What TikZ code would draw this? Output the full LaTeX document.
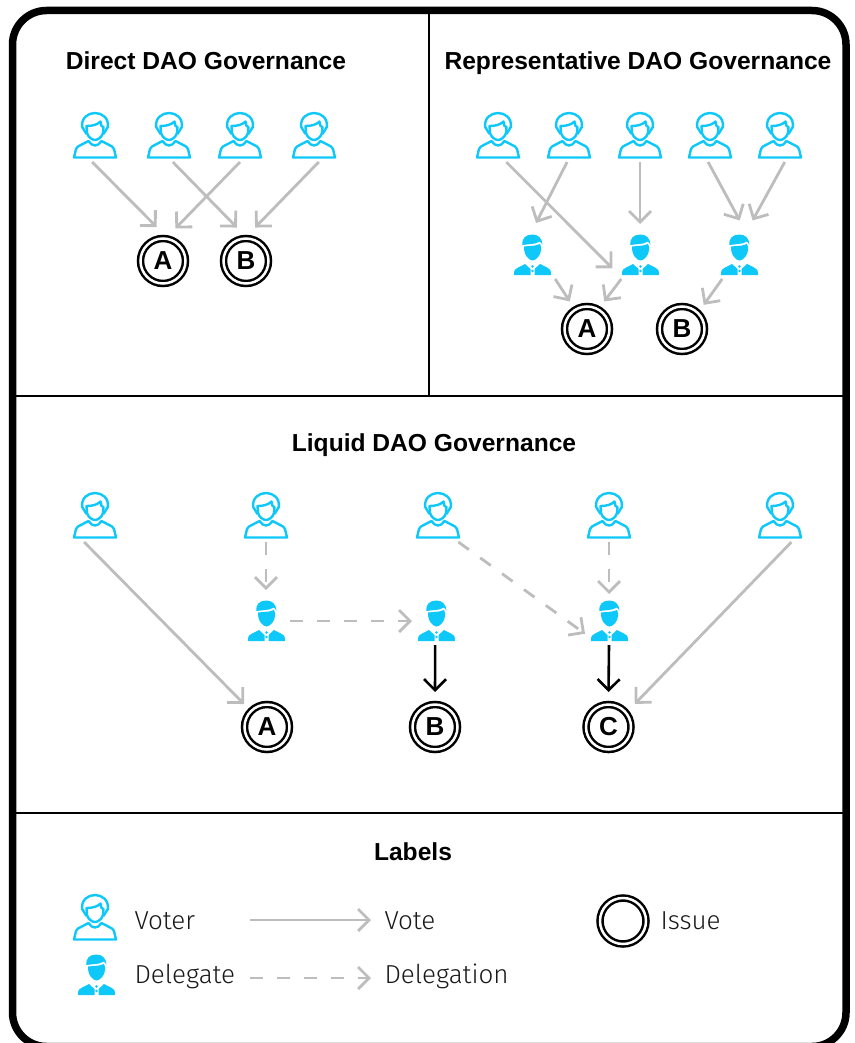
\documentclass[tikz,border=0pt]{standalone}
\usepackage{fontspec}
\setmainfont{Liberation Sans}
\newfontfamily\lightfont{Fira Sans Light}
\usetikzlibrary{arrows.meta}
\definecolor{iconblue}{HTML}{0FC8FA}
\definecolor{arrowgray}{HTML}{BDBDBD}
\tikzset{
  voter/.pic={
    \draw[iconblue, line width=2.4pt, line join=round]
      (-21,22.5) -- (21,22.5) -- (19,14) .. controls (18.5,12.5) and (18,12) .. (17,11.5) -- (6.5,6) .. controls (5,9) and (2,10.5) .. (0,10.5) .. controls (-2,10.5) and (-5,9) .. (-6.5,6) -- (-17,11.5) .. controls (-18,12) and (-18.5,12.5) .. (-19,14) -- cycle;
    \draw[iconblue, line width=2.4pt, line join=round]
      (-8.5,-1) -- (-12.8,-8) .. controls (-14,-17) and (-7,-22) .. (0,-22) .. controls (7,-22) and (14,-17) .. (12.8,-8) -- (8.5,-1);
    \draw[iconblue, line width=2.4pt, line join=round]
      (-8.5,-9) -- (-8,-2) .. controls (-7,2) and (-3,5) .. (0,5) .. controls (3,5) and (7,2) .. (8,-2) -- (8.5,-8) -- (6.5,-9) -- (5.5,-13.5) .. controls (2,-10) and (-3,-9) .. (-8.5,-9) -- cycle;
  },
  delegate/.pic={
    \fill[iconblue] (-9.5,-10) .. controls (-10.5,-17) and (-6,-20.5) .. (0.5,-20.5) .. controls (6,-20.5) and (10,-17) .. (10.5,-10.5) -- (8,-13.5) -- (3,-11.5) -- cycle;
    \fill[iconblue] (-8,-8.5) -- (3,-9.5) -- (8,-11) -- (9,-8) -- (9,-5) .. controls (9,0) and (4,5.5) .. (0.5,5.5) .. controls (-3,5.5) and (-8.5,0) .. (-8,-8.5) -- cycle;
    \fill[iconblue] (-18,20) .. controls (-18,15) and (-17,13.5) .. (-14,12.5) -- (-7,9) -- (-1.5,14) -- (-1.5,20) -- cycle;
    \fill[iconblue] (19,20) .. controls (19,15) and (18,13.5) .. (15,12.5) -- (8,9) -- (2.5,14) -- (2.5,20) -- cycle;
    \fill[iconblue] (0.5,11.5) circle (1.3) (0.5,16) circle (1.3);
  },
  votebox/.style={minimum width=44pt, minimum height=54pt, inner sep=0pt, outer sep=0pt},
  delegatebox/.style={minimum width=48pt, minimum height=48pt, inner sep=0pt, outer sep=0pt},
  issue/.style={shape=circle, draw=black, line width=2.5pt, double=white, double distance=2.5pt, minimum size=45pt, inner sep=0pt, outer sep=10pt, font=\fontsize{26}{26}\selectfont\bfseries},
  title/.style={anchor=base, font=\fontsize{24.6}{25}\selectfont\bfseries, text=black},
  legend/.style={anchor=west, font=\fontsize{26}{26}\lightfont, text=black!90},
  vote/.style={-{Straight Barb[length=11pt,width=22pt]}, line width=2.8pt, draw=arrowgray},
  delegation/.style={vote, dash pattern=on 13pt off 14pt},
  decided/.style={-{Straight Barb[length=11pt,width=22pt]}, line width=2.6pt, draw=black},
}
\begin{document}
\begin{tikzpicture}[x=1pt, y=-1pt]
\useasboundingbox (0,0) rectangle (854,1043);
\draw[line width=2pt] (13,395.5) -- (843,395.5);
\draw[line width=2pt] (13,813) -- (843,813);
\draw[line width=2.5pt] (429,12) -- (429,395.5);
\draw[line width=7.5pt, rounded corners=34pt] (12.5,10.5) rectangle (846,1046.5);
% direct
\node[title] (directtitle) at (206,70) {Direct DAO Governance};
\node[votebox] (dv1) at (95,135) {};  \pic at (dv1) {voter};
\node[votebox] (dv2) at (169,135) {}; \pic at (dv2) {voter};
\node[votebox] (dv3) at (240,135) {}; \pic at (dv3) {voter};
\node[votebox] (dv4) at (314,135) {}; \pic at (dv4) {voter};
\node[issue] (da) at (163,261) {A};
\node[issue] (db) at (246,261) {B};
\path (dv1.-96) edge[vote, shorten >=2.5pt] (da.98);
\path (dv2.-82) edge[vote, shorten >=2.5pt] (db.103);
\path (dv3.south) edge[vote, shorten >=2.5pt] (da.71);
\path (dv4.-80) edge[vote, shorten >=2.5pt] (db.77);
% representative
\node[title] (reptitle) at (638,70) {Representative DAO Governance};
\node[votebox] (rv1) at (498,135) {}; \pic at (rv1) {voter};
\node[votebox] (rv2) at (569,135) {}; \pic at (rv2) {voter};
\node[votebox] (rv3) at (640,135) {}; \pic at (rv3) {voter};
\node[votebox] (rv4) at (710,135) {}; \pic at (rv4) {voter};
\node[votebox] (rv5) at (780,135) {}; \pic at (rv5) {voter};
\node[delegatebox] (rd1) at (532,255) {}; \pic at (rd1) {delegate};
\node[delegatebox] (rd2) at (640,255) {}; \pic at (rd2) {delegate};
\node[delegatebox] (rd3) at (739,255) {}; \pic at (rd3) {delegate};
\node[issue] (ra) at (587,329) {A};
\node[issue] (rb) at (682,329) {B};
\path (rv1.-73) edge[vote, shorten >=5pt] (rd2.215);
\path (rv2.-94) edge[vote, shorten >=9pt] (rd1.north);
\path (rv3.south) edge[vote, shorten >=7pt] (rd2.north);
\path (rv4.-94) edge[vote, shorten >=12pt] (rd3.75);
\path (rv5.-80) edge[vote, shorten >=12pt] (rd3.72);
\path (rd1.-46) edge[vote] (ra.122);
\path (rd2.-128) edge[vote] (ra.58);
\path (rd3.-125) edge[vote] (rb.48);
% liquid
\node[title] (liquidtitle) at (434,451) {Liquid DAO Governance};
\node[votebox] (lv1) at (95,515) {};  \pic at (lv1) {voter};
\node[votebox] (lv2) at (266,515) {}; \pic at (lv2) {voter};
\node[votebox] (lv3) at (438,515) {}; \pic at (lv3) {voter};
\node[votebox] (lv4) at (609,515) {}; \pic at (lv4) {voter};
\node[votebox] (lv5) at (780,515) {}; \pic at (lv5) {voter};
\node[delegatebox] (ld1) at (266,621) {}; \pic at (ld1) {delegate};
\node[delegatebox] (ld2) at (436,621) {}; \pic at (ld2) {delegate};
\node[delegatebox] (ld3) at (609,621) {}; \pic at (ld3) {delegate};
\node[issue] (la) at (267,727) {A};
\node[issue] (lb) at (435,727) {B};
\node[issue] (lc) at (608.5,727) {C};
\path (lv1.-112) edge[vote] (la.135);
\path (lv5.-67) edge[vote, shorten >=2.5pt] (lc.41);
\path (lv2.south) edge[delegation, shorten >=7pt] (ld1.north);
\path (ld1.east) edge[delegation] (ld2.west);
\path (lv3.-53) edge[delegation] (ld3.208);
\path (lv4.south) edge[delegation, shorten >=3pt] (ld3.north);
\path (ld2.-92.4) edge[decided, shorten >=2.5pt] (lb.north);
\path (ld3.south) edge[decided, shorten >=2.5pt] (lc.north);
% labels
\node[title] (labelstitle) at (413,860) {Labels};
\node[votebox] (keyvoter) at (95,917) {}; \pic at (keyvoter) {voter};
\node[delegatebox] (keydelegate) at (96,975) {}; \pic at (keydelegate) {delegate};
\node[legend] (voterlabel) at (131,921) {Voter};
\node[legend] (delegatelabel) at (131,976) {Delegate};
\coordinate (votefrom) at (250,920);
\coordinate (voteto) at (371,920);
\coordinate (delegationfrom) at (250,978);
\coordinate (delegationto) at (371,978);
\path (votefrom) edge[vote] (voteto);
\path (delegationfrom) edge[delegation] (delegationto);
\node[legend] (votelabel) at (381,921) {Vote};
\node[legend] (delegationlabel) at (381,976) {Delegation};
\node[issue, minimum size=46pt] (keyissue) at (623,921) {};
\node[legend] (issuelabel) at (657,921) {Issue};
\end{tikzpicture}
\end{document}
